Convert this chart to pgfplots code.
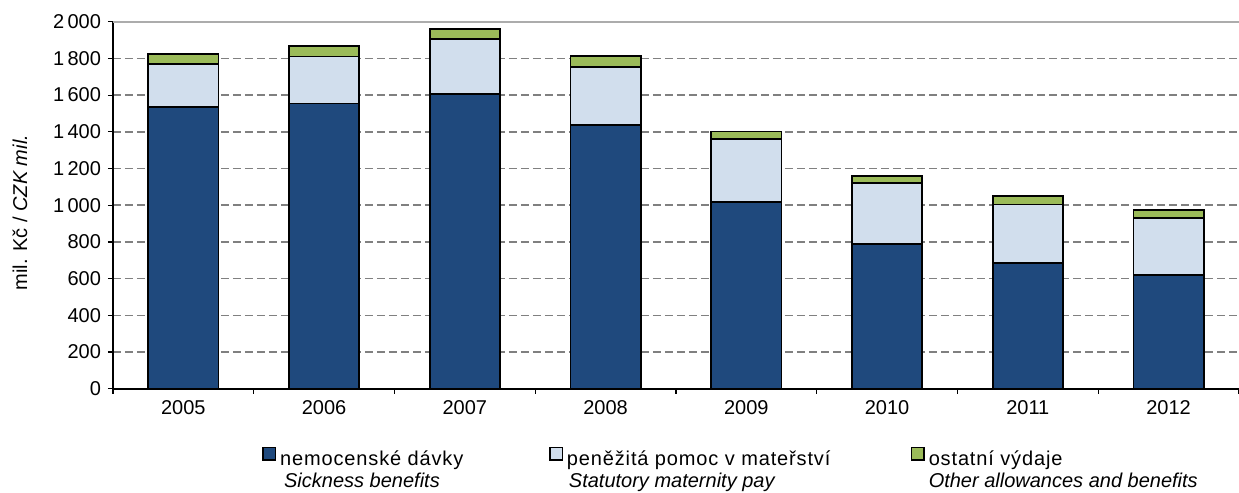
\documentclass[border=0pt]{standalone}
\usepackage{fontspec}
\setmainfont{Liberation Sans}
\newfontfamily\spaced[LetterSpace=4.3]{Liberation Sans}
\usepackage{pgfplots}
\usepackage{pgfplotstable}
\pgfplotsset{compat=1.18}

\definecolor{sick}{RGB}{31,73,125}
\definecolor{mat}{RGB}{209,222,237}
\definecolor{other}{RGB}{155,187,89}

% increments: sickness, maternity, other (mil. CZK)
\pgfplotstableread{
x sick mat other
0 1533 235 55
1 1554 256 56
2 1607 299 56
3 1435 319 58
4 1016 343 43
5 790 331 36
6 683 321 45
7 618 311 44
}\data

\begin{document}
\begin{tikzpicture}
\useasboundingbox (-56.5pt,-52.15pt) rectangle (563pt,194.35pt);
\begin{axis}[
  scale only axis, width=563pt, height=183.5pt,
  ybar stacked, bar width=0.5,
  xmin=-0.5, xmax=7.5, ymin=0, ymax=2000,
  xtick={0,...,7}, xticklabels={2005,2006,2007,2008,2009,2010,2011,2012},
  minor xtick={-0.5,0.5,...,7.5},
  ytick={0,200,...,2000},
  axis x line*=bottom, axis y line*=left,
  axis line style={black, line width=0.8pt},
  tick align=outside, major tick length=2.5pt, minor tick length=2.5pt,
  tick style={black, line width=0.6pt},
  major x tick style={draw=none},
  ymajorgrids, grid style={gray, line width=0.8pt, dash pattern=on 4pt off 2pt},
  font=\fontsize{10}{11}\selectfont,
  yticklabel style={/pgf/number format/.cd, 1000 sep={\,}, assume math mode=true},
  ylabel={mil. Kč / \textit{CZK mil.}},
  ylabel style={at={(axis description cs:-0.0826,0.48)}, anchor=center},
  legend columns=3,
  legend style={draw=none, fill=none, inner sep=0pt,
    at={(axis description cs:0.1323,-0.157)}, anchor=north west,
    nodes={inner xsep=2pt, inner ysep=0pt},
    /tikz/every even column/.append style={column sep=0pt}},
  legend image code/.code={\draw[#1, line width=0.7pt] (0pt,-0.3pt) rectangle (6.2pt,5.9pt);},
]
\addplot[fill=sick, draw=black, line width=0.9pt] table[x=x, y=sick] {\data};
\addplot[fill=mat, draw=black, line width=0.9pt] table[x=x, y=mat] {\data};
\addplot[fill=other, draw=black, line width=0.9pt] table[x=x, y=other] {\data};
\draw[gray!65, line width=0.8pt] (axis cs:-0.5,2000) -- (axis cs:7.5,2000);
\legend{\parbox[t]{132.5pt}{{\spaced nemocenské dávky}\\\hspace*{2pt}\textit{Sickness benefits}},
        \parbox[t]{170pt}{{\spaced peněžitá pomoc v mateřství}\\\hspace*{1pt}\textit{Statutory maternity pay}},
        \parbox[t]{150pt}{{\spaced ostatní výdaje}\\\textit{Other allowances and benefits}}}
\end{axis}
\end{tikzpicture}
\end{document}
